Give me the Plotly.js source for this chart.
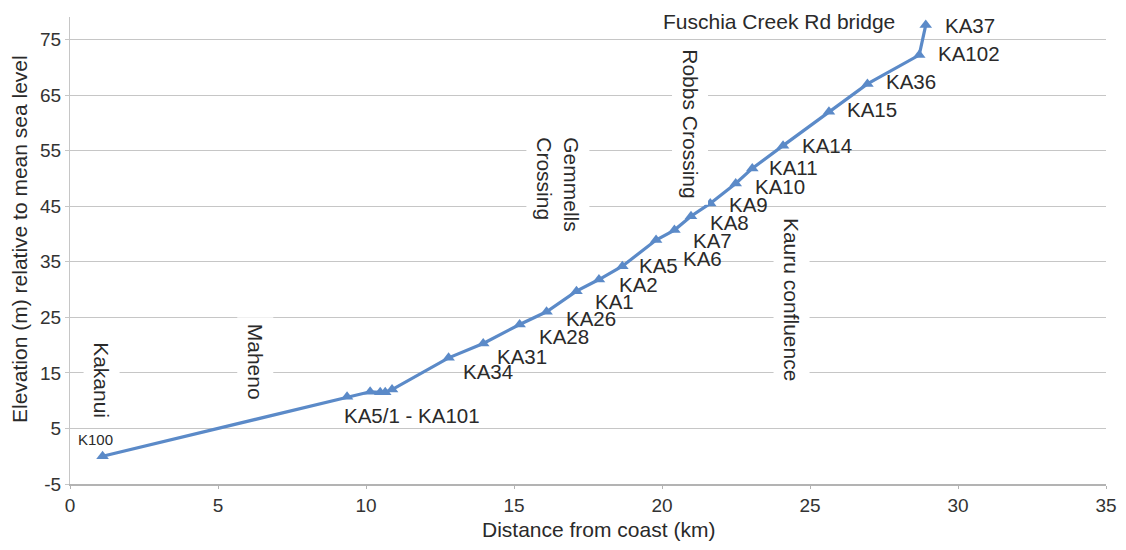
<!DOCTYPE html>
<html>
<head>
<meta charset="utf-8">
<script src="https://cdn.plot.ly/plotly-3.0.1.min.js"></script>
<style>html,body{margin:0;padding:0;background:#fff;}#chart{width:1126px;height:550px;}</style>
</head>
<body>
<div id="chart"></div>
<script>
// ---- data ----
var distanceKm = [1.1, 9.36, 10.14, 10.48, 10.65, 10.88, 12.79, 13.96, 15.19, 16.10, 17.11, 17.87, 18.66, 19.80, 20.42, 20.98, 21.63, 22.49, 23.05, 24.09, 25.64, 26.94, 28.69, 28.91];
var elevationM = [0.0, 10.7, 11.6, 11.5, 11.5, 12.0, 17.7, 20.3, 23.7, 26.0, 29.7, 31.8, 34.2, 38.9, 40.7, 43.2, 45.5, 49.1, 51.8, 55.9, 62.0, 67.0, 72.2, 77.6];
var stationLabels = ['K100', 'KA5/1 - KA101', '', '', '', '', 'KA34', 'KA31', 'KA28', 'KA26', 'KA1', 'KA2', 'KA5', 'KA6', 'KA7', 'KA8', 'KA9', 'KA10', 'KA11', 'KA14', 'KA15', 'KA36', 'KA102', 'KA37'];
var landmarkNames = ['Kakanui', 'Maheno', 'Gemmells<br>Crossing', 'Robbs Crossing', 'Kauru confluence'];
var landmarkKm = [1.08, 6.25, 16.48, 20.95, 24.36];
var landmarkLabelElev = [13.7, 17.0, 48.8, 59.9, 28.3];
var bridgeName = 'Fuschia Creek Rd bridge';
var xTickVals = [0, 5, 10, 15, 20, 25, 30, 35];
var xTickText = ['0', '5', '10', '15', '20', '25', '30', '35'];
var yTickVals = [-5, 5, 15, 25, 35, 45, 55, 65, 75];
var yTickText = ['-5', '5', '15', '25', '35', '45', '55', '65', '75'];
var xTitle = 'Distance from coast (km)';
var yTitle = 'Elevation (m) relative to mean sea level';

// ---- label placement (pixel shifts, style only) ----
var labelShift = [
  [-7, 17, 'center'], [-5, -19, 'left'], null, null, null, null,
  [12, -14, 'left'], [12, -13, 'left'], [17, -12, 'left'], [17, -7, 'left'],
  [17, -10, 'left'], [18, -5, 'left'], [15, 1, 'left'], [25, -18, 'left'],
  [17, -10, 'left'], [17, -6, 'left'], [17, -1, 'left'], [17, -3, 'left'],
  [15, 1, 'left'], [17, 0, 'left'], [16, 2, 'left'], [17, 2, 'left'],
  [17, 2, 'left'], [17, 0, 'left']
];

var FONT = 'Liberation Sans, Arial, sans-serif';
var TXT = '#2a2a2a';
var BLUE = '#5b8ac8';
var L = 70, R = 1106, T = 17, B = 484;

var annotations = [];
stationLabels.forEach(function (t, i) {
  if (!t) return;
  var s = labelShift[i];
  annotations.push({
    x: distanceKm[i], y: elevationM[i], xref: 'x', yref: 'y',
    text: t, showarrow: false,
    xanchor: s[2], yanchor: 'middle',
    xshift: s[0], yshift: s[1],
    font: {family: FONT, size: i === 0 ? 15 : 20.5, color: TXT}
  });
});
landmarkNames.forEach(function (t, i) {
  annotations.push({
    x: landmarkKm[i], y: landmarkLabelElev[i], xref: 'x', yref: 'y',
    text: t, showarrow: false, textangle: 90,
    align: 'left', xanchor: 'center', yanchor: 'middle',
    bgcolor: '#ffffff', borderpad: 6,
    font: {family: FONT, size: 21, color: TXT, lineposition: 'none'}
  });
});
annotations.push({
  x: 23.95, y: 78.2, xref: 'x', yref: 'y', text: bridgeName, showarrow: false,
  xanchor: 'center', yanchor: 'middle',
  font: {family: FONT, size: 21, color: TXT}
});
// axis titles (placed as annotations for exact position)
annotations.push({
  x: (598 - L) / (R - L), y: (B - 529) / (B - T), xref: 'paper', yref: 'paper',
  xanchor: 'center', yanchor: 'middle',
  text: xTitle, showarrow: false,
  font: {family: FONT, size: 21, color: TXT}
});
annotations.push({
  x: (19 - L) / (R - L), y: (B - 239) / (B - T), xref: 'paper', yref: 'paper',
  xanchor: 'center', yanchor: 'middle',
  text: yTitle, showarrow: false, textangle: -90,
  font: {family: FONT, size: 21, color: TXT}
});

var trace = {
  type: 'scatter', mode: 'lines+markers',
  x: distanceKm, y: elevationM,
  line: {color: BLUE, width: 3.2},
  marker: {symbol: 'triangle-up', size: 11, color: BLUE},
  hoverinfo: 'x+y'
};

var layout = {
  width: 1126, height: 550,
  margin: {l: L, r: 1126 - R, t: T, b: 550 - B, pad: 0},
  paper_bgcolor: '#ffffff', plot_bgcolor: '#ffffff',
  showlegend: false,
  xaxis: {
    range: [0, 35], tickmode: 'array', tickvals: xTickVals, ticktext: xTickText,
    showgrid: false, zeroline: false,
    showline: true, linecolor: '#b3b3b3', linewidth: 2,
    ticks: 'outside', ticklen: 3, tickcolor: '#b3b3b3',
    tickfont: {family: FONT, size: 19, color: '#333'}
  },
  yaxis: {
    range: [-5, 79.05], tickmode: 'array', tickvals: yTickVals, ticktext: yTickText,
    showgrid: true, gridcolor: '#c6c6c6', gridwidth: 1,
    zeroline: false,
    showline: true, linecolor: '#c6c6c6', linewidth: 1,
    ticks: 'outside', ticklen: 4, tickcolor: '#c6c6c6',
    tickfont: {family: FONT, size: 19, color: '#333'}
  },
  annotations: annotations
};

Plotly.newPlot('chart', [trace], layout, {displayModeBar: false, staticPlot: true});
</script>
</body>
</html>
